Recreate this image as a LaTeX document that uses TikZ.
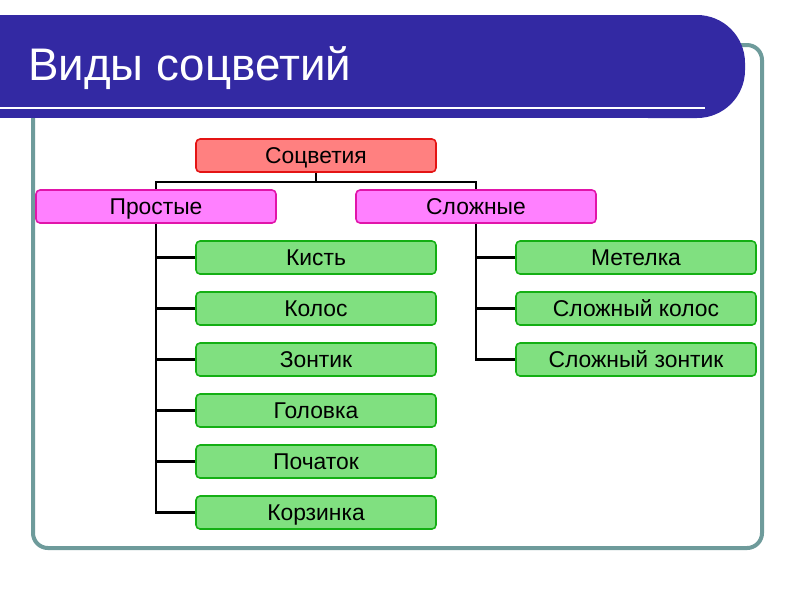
\documentclass[tikz,border=0pt]{standalone}
\usepackage{fontspec}
\setmainfont{Liberation Sans}
\usetikzlibrary{calc}

\definecolor{bannerblue}{RGB}{51,41,163}
\definecolor{framegray}{RGB}{110,155,155}
\definecolor{rootfill}{RGB}{255,128,128}
\definecolor{rootline}{RGB}{228,20,20}
\definecolor{kindfill}{RGB}{255,128,255}
\definecolor{kindline}{RGB}{225,20,170}
\definecolor{leaffill}{RGB}{128,224,128}
\definecolor{leafline}{RGB}{20,175,20}

\tikzset{
    box/.style={rounded corners=0.08cm, line width=0.9pt, minimum width=4.8cm,
        minimum height=0.66cm, inner sep=0pt, text height=9.3pt, text depth=0.4pt,
        font=\fontsize{13}{15}\selectfont},
    rootbox/.style={box, draw=rootline, fill=rootfill},
    kindbox/.style={box, draw=kindline, fill=kindfill},
    leafbox/.style={box, draw=leafline, fill=leaffill},
    branch/.style={line width=1.4pt, black}
}

\begin{document}
\begin{tikzpicture}[x=0.02cm, y=-0.02cm]
    % Page size
    \useasboundingbox (0,0) rectangle (800,600);

    % Frame behind the banner
    \draw[framegray, line width=0.08cm, rounded corners=0.3cm] (33,45) rectangle (762,548);

    % Title banner, square on the left and round on the right
    \fill[bannerblue] (0,15) rectangle (700,118);
    \fill[bannerblue, rounded corners=0.96cm] (600,15) rectangle (745,118);
    \draw[white, line width=1.2pt] (0,108) -- (705,108);
    \node[anchor=base west, white, inner sep=0pt, font=\fontsize{26}{30}\selectfont] (title) at (28,80) {Виды соцветий};

    % Root and the two kinds
    \node[rootbox] (soc) at (316,155.5) {Соцветия};
    \node[kindbox] (prost) at (156,206.5) {Простые};
    \node[kindbox] (slozh) at (476,206.5) {Сложные};

    % Simple inflorescences
    \node[leafbox] (kist) at (316,257.5) {Кисть};
    \node[leafbox] (kolos) at (316,308.5) {Колос};
    \node[leafbox] (zont) at (316,359.5) {Зонтик};
    \node[leafbox] (golov) at (316,410.5) {Головка};
    \node[leafbox] (poch) at (316,461.5) {Початок};
    \node[leafbox] (korz) at (316,512.5) {Корзинка};

    % Compound inflorescences
    \node[leafbox] (metel) at (636,257.5) {Метелка};
    \node[leafbox] (skolos) at (636,308.5) {Сложный колос};
    \node[leafbox] (szont) at (636,359.5) {Сложный зонтик};

    % Fork under the root
    \coordinate (fork) at ($(soc.south)+(0,9)$);
    \draw[branch] (soc.south) -- (fork);
    \draw[branch] (prost.north) |- (fork) -| (slozh.north);

    % Left branch
    \draw[branch] (prost.south) |- (korz.west);
    \draw[branch] (kist.west) -- (kist.west -| prost.south);
    \draw[branch] (kolos.west) -- (kolos.west -| prost.south);
    \draw[branch] (zont.west) -- (zont.west -| prost.south);
    \draw[branch] (golov.west) -- (golov.west -| prost.south);
    \draw[branch] (poch.west) -- (poch.west -| prost.south);

    % Right branch
    \draw[branch] (slozh.south) |- (szont.west);
    \draw[branch] (metel.west) -- (metel.west -| slozh.south);
    \draw[branch] (skolos.west) -- (skolos.west -| slozh.south);
\end{tikzpicture}
\end{document}
